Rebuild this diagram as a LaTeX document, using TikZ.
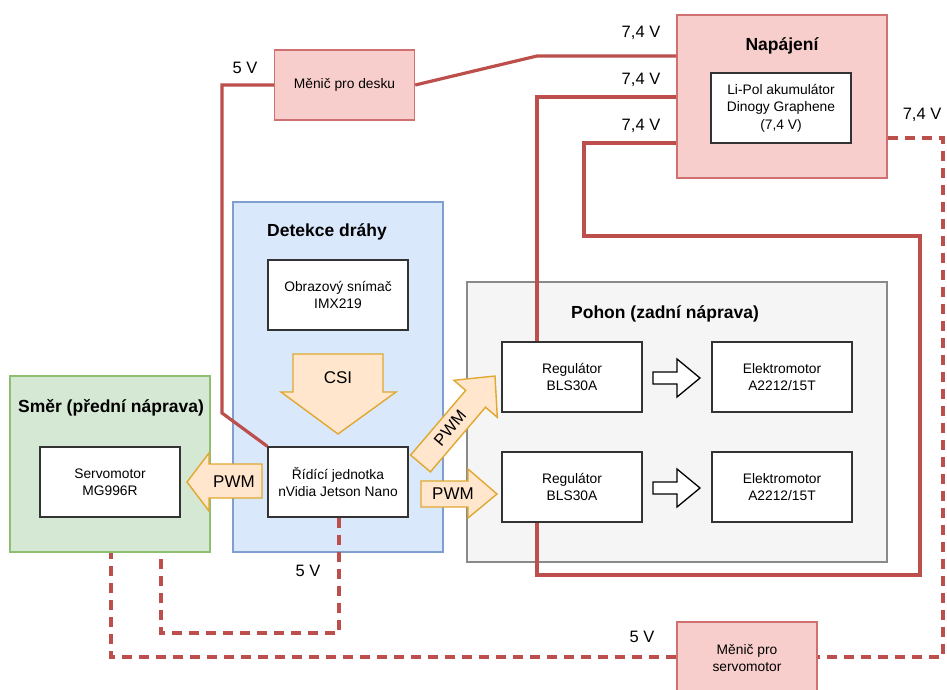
\documentclass[tikz,border=0pt]{standalone}
\usepackage{fontspec}
\setmainfont{Liberation Sans}
\definecolor{pinkF}{HTML}{F8CECC}
\definecolor{pinkD}{HTML}{D07070}
\definecolor{blueF}{HTML}{DAE8FC}
\definecolor{blueD}{HTML}{7E9FCF}
\definecolor{greenF}{HTML}{D5E8D4}
\definecolor{greenD}{HTML}{8CC070}
\definecolor{grayF}{HTML}{F5F5F5}
\definecolor{grayD}{HTML}{8A8A8A}
\definecolor{orF}{HTML}{FFE6CC}
\definecolor{orD}{HTML}{E0A830}
\definecolor{lineR}{HTML}{BC4F4B}
\definecolor{boxD}{HTML}{333333}
\newcommand\bxfont{\fontsize{13.8}{17.5}\selectfont}
\newcommand\ttlfont{\fontsize{17.5}{20}\selectfont\bfseries}
\newcommand\lblfont{\fontsize{16.5}{19}\selectfont}
\begin{document}
\begin{tikzpicture}[x=1pt,y=-1pt,
  grp/.style={line width=1.4pt, inner sep=0pt},
  pinkgrp/.style={grp, fill=pinkF, draw=pinkD},
  bluegrp/.style={grp, fill=blueF, draw=blueD},
  greengrp/.style={grp, fill=greenF, draw=greenD},
  graygrp/.style={grp, fill=grayF, draw=grayD},
  box/.style={draw=boxD, fill=white, line width=1.4pt, minimum width=140pt, minimum height=70pt, align=center, font=\bxfont, inner sep=0pt},
  pinkbox/.style={box, fill=pinkF, draw=pinkD},
  ttl/.style={font=\ttlfont, inner sep=0pt},
  lbl/.style={font=\lblfont, inner sep=0pt},
  pw/.style={draw=lineR, line width=3.2pt},
  pwd/.style={pw, dash pattern=on 10pt off 7pt},
  blk/.style={fill=orF, draw=orD, line width=1.4pt, line join=miter},
  wblk/.style={fill=white, draw=black, line width=1.3pt, line join=miter}]
\useasboundingbox (0,0) rectangle (947,689);
\clip (0,0) rectangle (947,689);
\fill[white] (0,0) rectangle (947,689);

% groups
\node[pinkgrp, minimum width=210pt, minimum height=163pt] (napajeni) at (782,96.5) {};
\node[bluegrp, minimum width=210pt, minimum height=350pt] (detekce) at (338,377) {};
\node[greengrp, minimum width=200pt, minimum height=176pt] (smer) at (110,464) {};
\node[graygrp, minimum width=420pt, minimum height=280pt] (pohon) at (677,422) {};

\node[ttl] (tNap) at (782,46) {Napájení};
\node[ttl] (tDet) at (327,232) {Detekce dráhy};
\node[ttl] (tSmer) at (111,408) {Směr (přední náprava)};
\node[ttl] (tPoh) at (665,314) {Pohon (zadní náprava)};

% bend coordinates
\coordinate (b1) at (537,56);
\coordinate (b2) at (537,97);
\coordinate (b3) at (584,143);
\coordinate (b4) at (584,236);
\coordinate (b5) at (920,236);
\coordinate (b6) at (920,575);
\coordinate (b7) at (537,575);
\coordinate (b8) at (222,85);
\coordinate (b9) at (222,413);
\coordinate (d1) at (943,138);
\coordinate (d2) at (943,657);
\coordinate (d3) at (111,657);
\coordinate (d4) at (339,633);
\coordinate (d5) at (161,633);

% boxes
\node[box] (lipol) at (781,108) {Li-Pol akumulátor\\Dinogy Graphene\\(7,4 V)};
\node[pinkbox] (menicDesk) at (344.5,85) {Měnič pro desku};
\node[box] (obraz) at (338,295) {Obrazový snímač\\IMX219};
\node[box] (ridici) at (338,482) {Řídící jednotka\\nVidia Jetson Nano};
\node[box] (servo) at (110,482) {Servomotor\\MG996R};
\node[box] (reg1) at (572,377) {Regulátor\\BLS30A};
\node[box] (reg2) at (572,487) {Regulátor\\BLS30A};
\node[box] (mot1) at (782,377) {Elektromotor\\A2212/15T};
\node[box] (mot2) at (782,487) {Elektromotor\\A2212/15T};
\node[pinkbox, minimum height=72pt] (menicServo) at (747,658) {Měnič pro\\servomotor};

% power lines
\draw[pw] (menicDesk.east) -- (b1) -- (napajeni.west |- b1);
\draw[pw] (napajeni.west |- b2) -- (b2) -- (reg1.north -| b2);
\draw[pw] (napajeni.west |- b3) -- (b3) -- (b4) -- (b5) -- (b6) -- (b7) -- (reg2.south -| b7);
\draw[pw] (menicDesk.west |- b8) -- (b8) -- (b9) -- (ridici.north west);
\draw[pwd] (napajeni.east |- d1) -- (d1) -- (d2) -- (menicServo.east |- d2);
\draw[pwd] (menicServo.west |- d3) -- (d3) -- (smer.south -| d3);
\draw[pwd] (ridici.south -| d4) -- (d4) -- (d5) -- (smer.south -| d5);

% voltage labels
\node[lbl] (v1) at (641,33) {7,4 V};
\node[lbl] (v2) at (641,80) {7,4 V};
\node[lbl] (v3) at (641,126) {7,4 V};
\node[lbl] (v4) at (922,115) {7,4 V};
\node[lbl] (v5) at (245,68) {5 V};
\node[lbl] (v6) at (308,571) {5 V};
\node[lbl] (v7) at (642,637) {5 V};

% block arrows
\draw[blk] (293,354) -- (383,354) -- (383,392) -- (396,392) -- (338,434) -- (281,392) -- (293,392) -- cycle;
\node[lbl, font=\fontsize{17}{20}\selectfont] (csi) at (338,378) {CSI};
\draw[blk] (262,464) -- (262,498) -- (209,498) -- (209,511) -- (187,482) -- (209,453) -- (209,464) -- cycle;
\node[lbl, font=\fontsize{17}{20}\selectfont] (pwm1) at (234,482) {PWM};
\draw[blk] (421,481) -- (468,481) -- (468,469) -- (497,494) -- (468,518) -- (468,507) -- (421,507) -- cycle;
\node[lbl, font=\fontsize{17}{20}\selectfont] (pwm2) at (453,494) {PWM};
\draw[blk] (410.6,455.1) -- (465.7,390.4) -- (453.9,380.3) -- (495,376) -- (497.3,417.3) -- (485.5,407.2) -- (430.4,471.9) -- cycle;
\node[lbl, font=\fontsize{16.5}{19}\selectfont, rotate=49.6] (pwm3) at (450,428) {PWM};

% white arrows
\draw[wblk] (653,372) -- (677,372) -- (677,359) -- (700,378) -- (677,397) -- (677,384) -- (653,384) -- cycle;
\draw[wblk] (653,482) -- (677,482) -- (677,469) -- (700,488) -- (677,507) -- (677,494) -- (653,494) -- cycle;
\end{tikzpicture}
\end{document}
